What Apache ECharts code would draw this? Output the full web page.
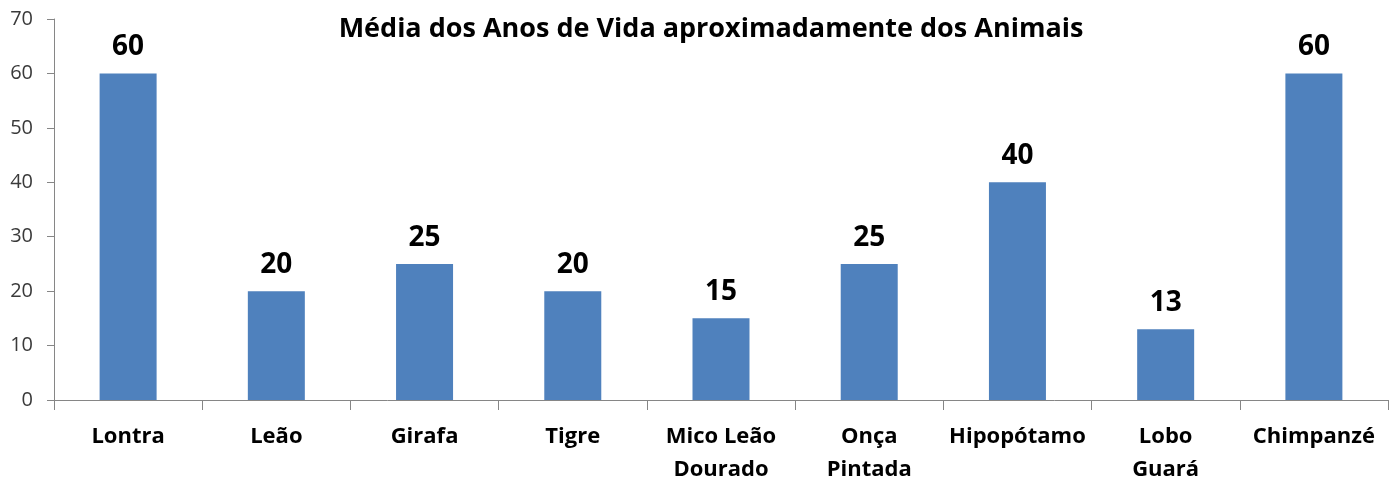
<!DOCTYPE html>
<html><head><meta charset="utf-8">
<script src="https://cdn.jsdelivr.net/npm/echarts@6/dist/echarts.min.js"></script>
<style>html,body{margin:0;padding:0;background:#fff;overflow:hidden}#c{width:1397px;height:486px}</style>
</head><body><div id="c"></div>
<script>
const chartTitle = 'Média dos Anos de Vida aproximadamente dos Animais';
const categories = ['Lontra', 'Leão', 'Girafa', 'Tigre', 'Mico Leão\nDourado', 'Onça\nPintada', 'Hipopótamo', 'Lobo\nGuará', 'Chimpanzé'];
const values = [60, 20, 25, 20, 15, 25, 40, 13, 60];
const yTicks = { min: 0, max: 70, interval: 10 };

const chart = echarts.init(document.getElementById('c'), null, { renderer: 'canvas' });
chart.setOption({
  animation: false,
  title: {
    text: chartTitle, left: 706, top: 11, textAlign: 'center',
    textStyle: { fontFamily: 'Open Sans', fontWeight: 'bold', fontSize: 27, color: '#000' }
  },
  grid: { left: 54, right: 9, top: 19, bottom: 81, containLabel: false },
  xAxis: {
    type: 'category', data: categories,
    axisLine: { lineStyle: { color: '#868686', width: 1 } },
    axisTick: { show: true, length: 10, lineStyle: { color: '#868686' } },
    axisLabel: { interval: 0, margin: 20, color: '#000', fontFamily: 'Open Sans', fontWeight: 'bold', fontSize: 22, lineHeight: 33 }
  },
  yAxis: {
    type: 'value', min: yTicks.min, max: yTicks.max, interval: yTicks.interval,
    splitLine: { show: false },
    axisLine: { show: true, lineStyle: { color: '#868686', width: 1 } },
    axisTick: { show: true, length: 7, lineStyle: { color: '#868686' } },
    axisLabel: { margin: 21, color: '#3a3a3a', fontFamily: 'Open Sans', fontSize: 20 }
  },
  series: [{
    type: 'bar', data: values, barWidth: 57,
    itemStyle: { color: '#4F81BD' },
    label: { show: true, position: 'top', distance: 12, color: '#000', fontFamily: 'Open Sans', fontWeight: 'bold', fontSize: 28 }
  }]
});
</script></body></html>
